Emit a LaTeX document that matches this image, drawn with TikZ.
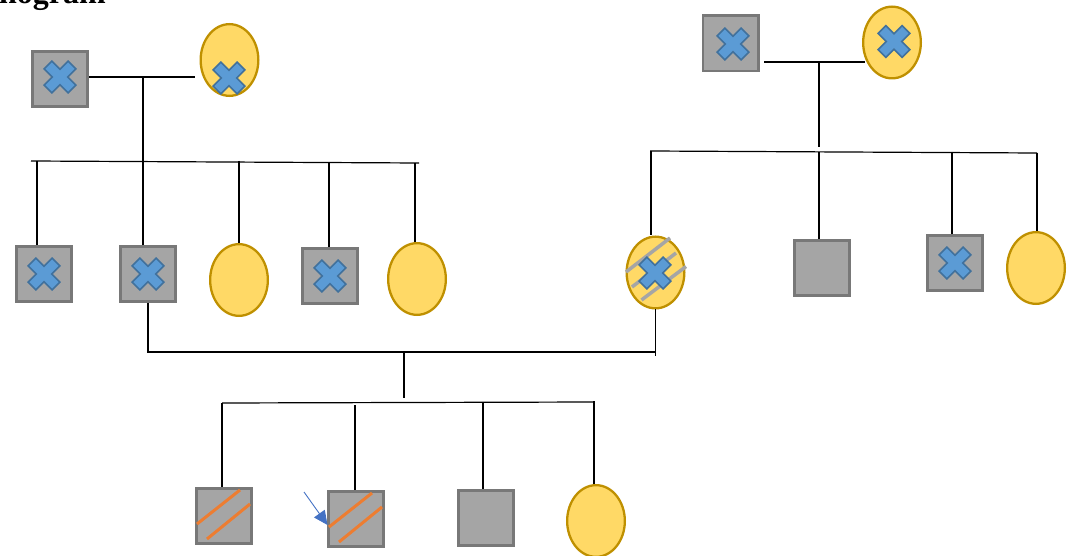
\documentclass[tikz,border=0pt]{standalone}
\usepackage{fontspec}
\setmainfont{Liberation Serif}
\usetikzlibrary{shapes.geometric,arrows.meta}
\definecolor{sqfill}{HTML}{A5A5A5}
\definecolor{sqline}{HTML}{787878}
\definecolor{elfill}{HTML}{FFD966}
\definecolor{elline}{HTML}{BF9000}
\definecolor{xfill}{HTML}{5B9BD5}
\definecolor{xline}{HTML}{41719C}
\definecolor{stripe}{HTML}{ED7D31}
\definecolor{gstripe}{HTML}{A5A5A5}
\definecolor{arrowblue}{HTML}{4472C4}
\begin{document}
\begin{tikzpicture}[x=1pt,y=-1pt,
  sq/.style={draw=sqline,fill=sqfill,line width=2.8pt,minimum size=55.2pt,inner sep=0pt},
  el/.style={ellipse,draw=elline,fill=elfill,line width=2.3pt,minimum width=57.7pt,minimum height=71.7pt,inner sep=0pt},
  ln/.style={line width=1.2pt,black},
  orstripe/.style={stripe,line width=3pt},
  grstripe/.style={gstripe,line width=3.5pt},
  xcross/.pic={\draw[xline,fill=xfill,line width=1.5pt,rotate=45]
     (-5.5,17)--(5.5,17)--(5.5,5.5)--(17,5.5)--(17,-5.5)--(5.5,-5.5)--(5.5,-17)--(-5.5,-17)
     --(-5.5,-5.5)--(-17,-5.5)--(-17,5.5)--(-5.5,5.5)--cycle;},
  twostripes/.pic={\draw[orstripe] (-27,8)--(16,-26); \draw[orstripe] (-17,23)--(26,-12);}
  ]
\useasboundingbox (0,0) rectangle (1077,556);
\clip (0,0) rectangle (1077,556);

% title (cut at top)
\node[anchor=base west,inner sep=0pt,font=\bfseries\fontsize{32}{32}\selectfont] (title) at (-1,4) {nogram};

% ---------- left grandparents ----------
\node[sq] (f1) at (60,79) {};
\pic at (60,77) {xcross};
\node[el] (m1) at (229.5,60) {};
\pic at (229,78) {xcross};
\coordinate (j1) at (143,77);
\draw[ln] (f1.east |- j1) -- (195,77) coordinate (m1end);
\coordinate (s1L) at (31,161);
\coordinate (s1R) at (419,163);
\draw[ln] (j1) -- (j1 |- s1L);
\draw[ln] (s1L) -- (s1R);

% children
\node[sq] (c1) at (44,274) {};   \pic at (44,274) {xcross};
\node[sq] (c2) at (148,274) {};  \pic at (148,274) {xcross};
\node[el] (c3) at (239,280) {};
\node[sq] (c4) at (330,276) {};  \pic at (330,276) {xcross};
\node[el] (c5) at (417,279) {};
\coordinate (v11) at (37,161);
\coordinate (v12) at (143,161);
\coordinate (v13) at (239,161);
\coordinate (v14) at (329,162);
\coordinate (v15) at (415,163);
\draw[ln] (v11) -- (v11 |- c1.north);
\draw[ln] (v12) -- (v12 |- c2.north);
\draw[ln] (v13) -- (v13 |- c3.north);
\draw[ln] (v14) -- (v14 |- c4.north);
\draw[ln] (v15) -- (v15 |- c5.north);

% ---------- right grandparents ----------
\node[sq] (f2) at (730.5,43.5) {};
\pic at (733,44) {xcross};
\node[el] (m2) at (892,42.5) {};
\pic at (894,41.5) {xcross};
\coordinate (j2) at (819,62);
\draw[ln] (764,62) coordinate (f2end) -- (865,62) coordinate (m2end);
\draw[ln] (j2) -- (819,147) coordinate (j2b);
\coordinate (s2L) at (650,151);
\coordinate (s2R) at (1037,153);
\draw[ln] (s2L) -- (s2R);

% children
\node[el] (d1) at (655.5,272.5) {};
\draw[grstripe] (626,272) -- (670,238);
\draw[grstripe] (632,287) -- (676,253);
\draw[grstripe] (641.5,300) -- (686,266.5);
\pic at (655,273) {xcross};
\node[sq] (d2) at (822,268) {};
\node[sq] (d3) at (955,263) {};  \pic at (955,263) {xcross};
\node[el] (d4) at (1036,268) {};
\coordinate (v21) at (651,151);
\coordinate (v22) at (819,152);
\coordinate (v23) at (952,152);
\coordinate (v24) at (1037,153);
\draw[ln] (v21) -- (v21 |- d1.north);
\draw[ln] (v22) -- (v22 |- d2.north);
\draw[ln] (v23) -- (v23 |- d3.north);
\draw[ln] (v24) -- (v24 |- d4.north);

% ---------- marriage c2 -- d1 ----------
\coordinate (mj) at (404,352);
\draw[ln] (c2.south) -- (c2.south |- mj) -- (mj -| d1.south) -- (d1.south);
\draw[ln] (mj -| d1.south) -- ++(0,4);
\draw[ln] (mj) -- (404,398) coordinate (mjb);
\coordinate (s3L) at (222,403);
\coordinate (s3R) at (594,402);
\draw[ln] (s3L) -- (s3R);

% grandchildren
\node[sq] (g1) at (224,516) {};  \pic at (224,516) {twostripes};
\node[sq] (g2) at (356,519) {};  \pic at (356,519) {twostripes};
\node[sq] (g3) at (486,518) {};
\node[el] (g4) at (596,521) {};
\coordinate (v31) at (222,403);
\coordinate (v32) at (355,405);
\coordinate (v33) at (483,402);
\coordinate (v34) at (594,401);
\draw[ln] (v31) -- (v31 |- g1.north);
\draw[ln] (v32) -- (v32 |- g2.north);
\draw[ln] (v33) -- (v33 |- g3.north);
\draw[ln] (v34) -- (v34 |- g4.north);

% proband arrow
\coordinate (atail) at (304,492);
\coordinate (ahead) at (327.5,525);
\draw[arrowblue,line width=0.9pt,-{Triangle[length=14pt,width=13pt]}] (atail) -- (ahead);
\end{tikzpicture}
\end{document}
